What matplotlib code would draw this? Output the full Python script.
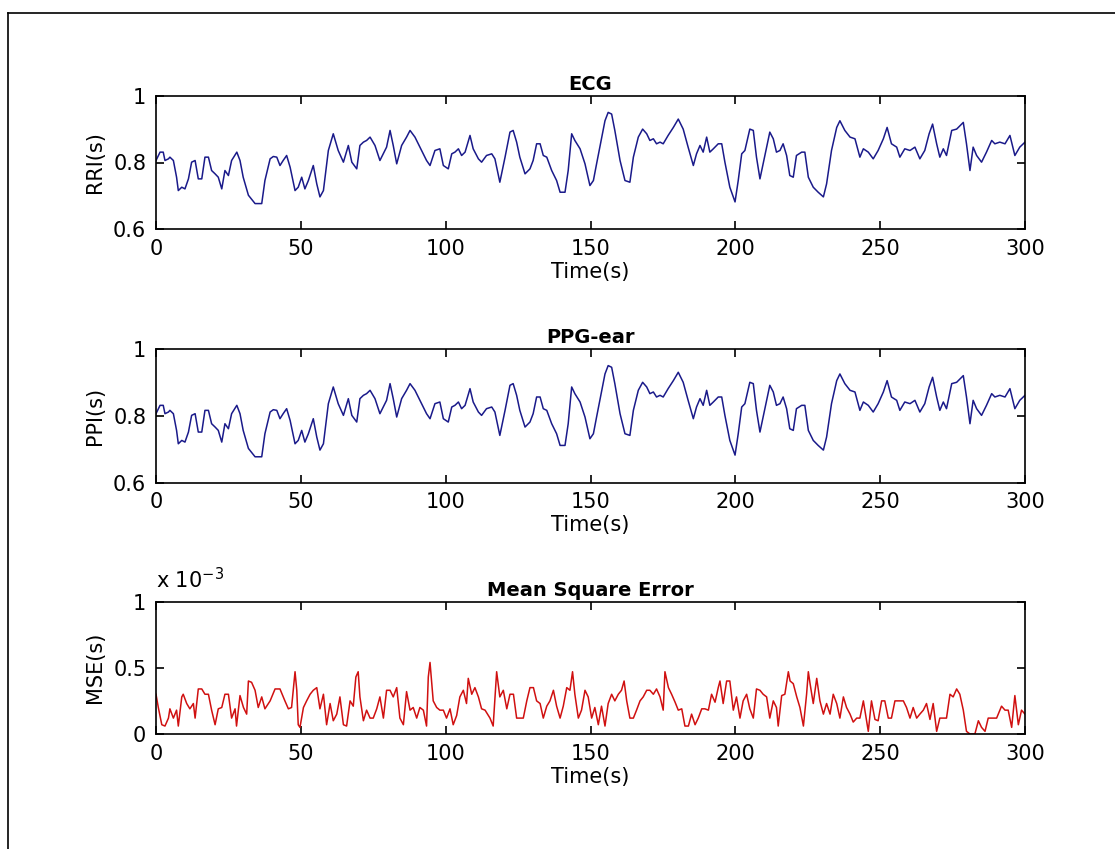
import numpy as np
import matplotlib
matplotlib.use("Agg")
import matplotlib.pyplot as plt
from matplotlib.lines import Line2D

plt.rcParams['font.family'] = ['DejaVu Sans']
plt.rcParams['mathtext.default'] = 'regular'

# RR intervals (time in s, interval in s)
rri_t = [0, 1.4, 2.5, 3.1, 4.3, 4.8, 6.0, 7.1, 7.7, 8.9, 10.0, 11.2, 12.3, 13.5, 14.6, 15.8,
         16.9, 18.1, 19.2, 20.4, 21.5, 22.7, 23.8, 25.0, 26.1, 27.9, 29.0, 30.1, 31.9, 34.2,
         36.5, 37.6, 39.4, 40.5, 41.7, 42.8, 43.9, 45.1, 46.3, 48.0, 49.1, 50.3, 51.4, 52.6,
         54.3, 55.5, 56.6, 57.8, 59.5, 61.2, 62.9, 64.7, 66.4, 67.6, 69.3, 70.4, 71.6, 72.7,
         73.9, 75.6, 77.3, 79.6, 80.8, 81.9, 83.1, 84.8, 86.5, 87.7, 89.4, 91.7, 93.4, 94.6,
         96.3, 98.0, 99.2, 100.9, 102.1, 103.2, 104.4, 105.5, 106.7, 108.4, 109.5, 111.3,
         112.4, 114.1, 115.9, 117.0, 118.7, 120.5, 122.2, 123.3, 124.5, 125.6, 127.4, 129.1,
         130.2, 131.4, 132.6, 133.7, 134.9, 136.6, 138.3, 139.5, 141.2, 142.3, 143.5, 144.6,
         146.4, 148.1, 149.8, 151.0, 152.1, 153.8, 155.0, 156.1, 157.3, 158.4, 160.2, 161.9,
         163.6, 164.8, 166.5, 168.0, 169.4, 170.5, 171.7, 172.8, 174.0, 175.1, 176.8, 178.6,
         180.3, 182.0, 183.7, 185.5, 186.6, 187.8, 188.9, 190.1, 191.2, 192.4, 194.1, 195.3,
         196.4, 198.1, 199.9, 201.0, 202.2, 203.3, 205.0, 206.2, 207.3, 208.5, 210.2, 211.9,
         213.1, 214.2, 215.4, 216.5, 217.7, 218.8, 220.0, 221.1, 222.9, 224.0, 225.2, 226.9,
         228.6, 230.4, 231.5, 233.2, 235.0, 236.1, 237.8, 239.6, 241.3, 243.0, 244.2, 245.9,
         247.6, 249.3, 251.1, 252.4, 253.9, 255.7, 256.8, 258.5, 260.3, 262.0, 263.7, 265.4,
         266.9, 268.1, 269.5, 270.6, 271.8, 272.9, 274.7, 276.4, 278.7, 279.8, 281.0, 282.1,
         283.3, 285.0, 286.7, 288.5, 289.6, 291.3, 293.1, 294.8, 296.5, 298.2, 300.0]
rri = [0.806, 0.831, 0.831, 0.806, 0.811, 0.816, 0.806, 0.756, 0.716, 0.726, 0.721, 0.751,
       0.801, 0.806, 0.751, 0.751, 0.816, 0.816, 0.776, 0.766, 0.756, 0.721, 0.776, 0.761,
       0.806, 0.831, 0.806, 0.756, 0.702, 0.677, 0.677, 0.746, 0.811, 0.818, 0.816, 0.791,
       0.806, 0.821, 0.786, 0.716, 0.726, 0.756, 0.721, 0.746, 0.791, 0.736, 0.697, 0.716,
       0.836, 0.886, 0.836, 0.801, 0.851, 0.801, 0.781, 0.851, 0.861, 0.866, 0.876, 0.851,
       0.806, 0.846, 0.896, 0.851, 0.796, 0.851, 0.876, 0.896, 0.876, 0.836, 0.806, 0.791,
       0.836, 0.841, 0.791, 0.781, 0.826, 0.831, 0.841, 0.821, 0.831, 0.881, 0.841, 0.811,
       0.801, 0.821, 0.826, 0.811, 0.741, 0.816, 0.891, 0.896, 0.861, 0.816, 0.766, 0.781,
       0.806, 0.856, 0.856, 0.821, 0.816, 0.776, 0.746, 0.711, 0.711, 0.776, 0.886, 0.866,
       0.841, 0.796, 0.731, 0.746, 0.796, 0.871, 0.925, 0.950, 0.945, 0.896, 0.806, 0.746,
       0.741, 0.816, 0.876, 0.900, 0.886, 0.866, 0.871, 0.856, 0.861, 0.856, 0.881, 0.905,
       0.930, 0.900, 0.846, 0.791, 0.826, 0.851, 0.831, 0.876, 0.831, 0.841, 0.856, 0.856,
       0.801, 0.726, 0.682, 0.746, 0.826, 0.836, 0.900, 0.896, 0.816, 0.751, 0.821, 0.891,
       0.871, 0.831, 0.836, 0.856, 0.821, 0.761, 0.756, 0.821, 0.831, 0.831, 0.756, 0.726,
       0.711, 0.697, 0.736, 0.836, 0.905, 0.925, 0.896, 0.876, 0.871, 0.816, 0.841, 0.831,
       0.811, 0.836, 0.871, 0.905, 0.856, 0.846, 0.816, 0.841, 0.836, 0.846, 0.811, 0.836,
       0.886, 0.915, 0.856, 0.816, 0.841, 0.821, 0.896, 0.900, 0.920, 0.856, 0.776, 0.846,
       0.821, 0.801, 0.831, 0.866, 0.856, 0.861, 0.856, 0.881, 0.821, 0.846, 0.861]

# PPG-ear pulse intervals track the RR intervals almost exactly in the picture
ppi_t = list(rri_t)
ppi = list(rri)

# mean square error, in units of 1e-3
mse_t = [0, 0.8, 2.0, 3.1, 4.3, 4.8, 6.0, 7.1, 7.7, 8.9, 9.4, 10.6, 11.7, 12.9, 13.5, 14.6,
         15.8, 16.9, 18.1, 19.2, 20.4, 21.5, 22.7, 23.8, 25.0, 26.1, 27.3, 27.8, 29.0, 30.2,
         31.3, 31.9, 33.0, 34.2, 35.3, 36.5, 37.6, 39.4, 41.1, 42.8, 44.5, 45.7, 46.8, 48.0,
         48.6, 49.1, 49.7, 50.9, 52.0, 53.2, 54.3, 55.5, 56.6, 57.8, 58.9, 60.1, 61.2, 62.4,
         63.5, 64.7, 65.8, 67.0, 68.1, 69.0, 69.8, 70.4, 71.6, 72.7, 73.9, 75.0, 76.2, 77.3,
         78.5, 79.6, 80.8, 81.9, 83.1, 84.2, 85.4, 86.5, 87.7, 88.8, 90.0, 91.1, 92.3, 93.4,
         94.0, 94.6, 95.7, 96.9, 98.0, 99.2, 100.3, 101.5, 102.6, 103.8, 104.9, 106.1, 107.2,
         107.8, 109.0, 110.1, 111.3, 112.4, 113.6, 115.3, 116.4, 117.6, 118.7, 119.9, 121.1,
         122.2, 123.4, 124.5, 125.7, 126.8, 128.0, 129.1, 130.3, 131.4, 132.6, 133.7, 134.9,
         136.0, 137.2, 138.3, 139.5, 140.6, 141.8, 142.9, 143.8, 144.6, 145.8, 146.9, 148.1,
         149.2, 150.4, 151.5, 152.7, 153.8, 155.0, 156.1, 157.3, 158.4, 159.6, 160.7, 161.6,
         162.5, 163.6, 164.8, 165.9, 167.1, 168.2, 169.4, 170.5, 171.7, 172.8, 174.0, 175.1,
         175.7, 176.9, 178.0, 179.2, 180.3, 181.5, 182.6, 183.8, 184.9, 186.1, 187.2, 188.4,
         189.5, 190.7, 191.8, 193.0, 194.1, 194.7, 195.8, 197.0, 198.1, 199.3, 200.4, 201.6,
         202.7, 203.9, 205.0, 206.2, 207.3, 208.5, 209.6, 210.8, 211.9, 213.1, 214.2, 214.8,
         216.0, 217.1, 218.3, 218.9, 220.0, 221.2, 222.3, 223.5, 224.6, 225.2, 225.8, 226.9,
         228.1, 229.2, 230.4, 231.5, 232.7, 233.8, 235.0, 236.1, 237.3, 238.4, 239.6, 240.7,
         241.9, 243.0, 244.2, 245.3, 245.9, 247.0, 248.2, 249.3, 250.5, 251.6, 252.8, 253.9,
         255.1, 256.2, 258.0, 259.1, 260.3, 261.4, 262.6, 263.7, 264.9, 266.0, 267.2, 268.3,
         269.5, 270.6, 271.8, 272.9, 274.1, 275.2, 276.4, 277.5, 278.7, 279.8, 281.0, 282.7,
         283.9, 285.0, 286.2, 287.3, 288.5, 290.2, 291.9, 293.1, 294.2, 295.4, 296.5, 297.7,
         298.8, 300.0]
mse_e3 = [0.30, 0.20, 0.07, 0.06, 0.12, 0.19, 0.12, 0.18, 0.06, 0.28, 0.30, 0.23, 0.19, 0.23,
          0.12, 0.34, 0.34, 0.30, 0.30, 0.18, 0.07, 0.19, 0.20, 0.30, 0.30, 0.12, 0.19, 0.06,
          0.29, 0.20, 0.15, 0.40, 0.39, 0.33, 0.20, 0.28, 0.19, 0.25, 0.34, 0.34, 0.25, 0.19,
          0.20, 0.47, 0.33, 0.07, 0.05, 0.20, 0.25, 0.30, 0.33, 0.35, 0.19, 0.30, 0.07, 0.23,
          0.10, 0.15, 0.28, 0.07, 0.06, 0.25, 0.21, 0.43, 0.47, 0.28, 0.10, 0.18, 0.12, 0.12,
          0.19, 0.28, 0.12, 0.33, 0.33, 0.28, 0.35, 0.12, 0.07, 0.32, 0.18, 0.20, 0.12, 0.20,
          0.18, 0.06, 0.43, 0.54, 0.25, 0.20, 0.18, 0.18, 0.12, 0.19, 0.07, 0.14, 0.28, 0.33,
          0.23, 0.42, 0.30, 0.35, 0.28, 0.19, 0.18, 0.12, 0.06, 0.47, 0.28, 0.33, 0.19, 0.30,
          0.30, 0.12, 0.12, 0.12, 0.25, 0.35, 0.35, 0.25, 0.23, 0.12, 0.21, 0.25, 0.33, 0.21,
          0.12, 0.21, 0.35, 0.33, 0.47, 0.30, 0.12, 0.18, 0.33, 0.28, 0.12, 0.20, 0.07, 0.21,
          0.06, 0.23, 0.30, 0.25, 0.30, 0.33, 0.40, 0.25, 0.12, 0.12, 0.18, 0.25, 0.28, 0.33,
          0.33, 0.30, 0.34, 0.28, 0.18, 0.47, 0.35, 0.30, 0.24, 0.18, 0.19, 0.06, 0.06, 0.15,
          0.07, 0.12, 0.19, 0.19, 0.18, 0.30, 0.24, 0.35, 0.40, 0.23, 0.40, 0.40, 0.18, 0.28,
          0.12, 0.25, 0.30, 0.19, 0.12, 0.34, 0.33, 0.30, 0.28, 0.12, 0.25, 0.20, 0.06, 0.29,
          0.30, 0.47, 0.40, 0.38, 0.28, 0.20, 0.06, 0.30, 0.47, 0.38, 0.23, 0.42, 0.25, 0.15,
          0.23, 0.15, 0.30, 0.23, 0.12, 0.28, 0.20, 0.15, 0.09, 0.12, 0.12, 0.25, 0.10, 0.02,
          0.25, 0.11, 0.10, 0.25, 0.25, 0.12, 0.12, 0.25, 0.25, 0.25, 0.20, 0.12, 0.20, 0.12,
          0.15, 0.18, 0.23, 0.11, 0.23, 0.02, 0.12, 0.12, 0.12, 0.30, 0.28, 0.34, 0.30, 0.18,
          0.02, 0.0, 0.0, 0.10, 0.05, 0.02, 0.12, 0.12, 0.12, 0.21, 0.18, 0.18, 0.05, 0.29,
          0.07, 0.18, 0.15]

x_ticks = [0, 50, 100, 150, 200, 250, 300]

W, H = 1115, 849
fig = plt.figure(figsize=(W / 100, H / 100), dpi=100)

# outer frame like the screenshot (only top and left edges are visible)
fig.add_artist(Line2D([8 / W, 8 / W], [0, 1 - 13 / H], color='black', lw=1.2))
fig.add_artist(Line2D([8 / W, 1], [1 - 13 / H, 1 - 13 / H], color='black', lw=1.2))

left, width = 156 / W, 869 / W


def setup(ax, title, ylabel):
    ax.set_xlim(0, 300)
    ax.set_xticks(x_ticks)
    ax.tick_params(direction='in', top=True, right=True, length=6, width=1.2,
                   labelsize=15, pad=7)
    for s in ax.spines.values():
        s.set_linewidth(1.2)
    ax.set_title(title, fontsize=14, fontweight='bold', pad=4)
    ax.set_xlabel('Time(s)', fontsize=15, labelpad=2)
    ax.set_ylabel(ylabel, fontsize=15, labelpad=6)


ax1 = fig.add_axes([left, 1 - 229.3 / H, width, 133.6 / H])
ax1.plot(rri_t, rri, color='#1a1a8a', lw=1.1)
ax1.set_ylim(0.6, 1)
ax1.set_yticks([0.6, 0.8, 1])
ax1.set_yticklabels(['0.6', '0.8', '1'])
setup(ax1, 'ECG', 'RRI(s)')

ax2 = fig.add_axes([left, 1 - 482.5 / H, width, 133.6 / H])
ax2.plot(ppi_t, ppi, color='#1a1a8a', lw=1.1)
ax2.set_ylim(0.6, 1)
ax2.set_yticks([0.6, 0.8, 1])
ax2.set_yticklabels(['0.6', '0.8', '1'])
setup(ax2, 'PPG-ear', 'PPI(s)')

ax3 = fig.add_axes([left, 1 - 734 / H, width, 132.5 / H])
ax3.plot(mse_t, mse_e3, color='#d01010', lw=1.1)
ax3.set_ylim(0, 1)
ax3.set_yticks([0, 0.5, 1])
ax3.set_yticklabels(['0', '0.5', '1'])
setup(ax3, 'Mean Square Error', 'MSE(s)')
ax3.text(0, 1.07, 'x 10$^{-3}$', transform=ax3.transAxes, fontsize=15,
         ha='left', va='bottom')

fig.savefig('out.png', dpi=100)
